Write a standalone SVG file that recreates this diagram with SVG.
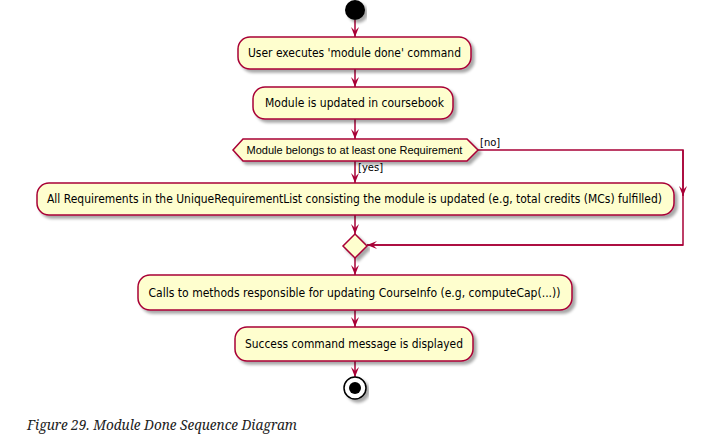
<svg xmlns="http://www.w3.org/2000/svg" width="720" height="447" viewBox="0 0 720 447">
<style>
.box{fill:#FEFECE;stroke:#A80036;stroke-width:1.5;filter:url(#sh)}
.t{font-family:"DejaVu Sans",Verdana,sans-serif;font-size:11.5px;fill:#000;text-anchor:middle}
.h{font-family:"Liberation Sans",Arial,sans-serif;font-size:11px;fill:#000;text-anchor:middle}
.g{font-family:"DejaVu Sans",Verdana,sans-serif;font-size:10px;fill:#000}
.ln{fill:none;stroke:#A80036;stroke-width:1.5}
</style>
<defs>
<filter id="sh" x="-10%" y="-30%" width="120%" height="170%">
<feGaussianBlur in="SourceAlpha" stdDeviation="1.5"/>
<feOffset dx="3" dy="3" result="b"/>
<feComponentTransfer><feFuncA type="linear" slope="0.35"/></feComponentTransfer>
<feMerge><feMergeNode/><feMergeNode in="SourceGraphic"/></feMerge>
</filter>
<marker id="ah" viewBox="0 0 10 10" refX="10" refY="5" markerWidth="10" markerHeight="10" markerUnits="userSpaceOnUse" orient="auto">
<path d="M0,1 L10,5 L0,9 L4,5 Z" fill="#A80036"/>
</marker>
</defs>
<rect width="720" height="447" fill="#fff"/>
<g id="connectors">
<line class="ln" x1="355" y1="20" x2="355" y2="37" marker-end="url(#ah)"/>
<line class="ln" x1="355" y1="69" x2="355" y2="87" marker-end="url(#ah)"/>
<line class="ln" x1="355" y1="119" x2="355" y2="139" marker-end="url(#ah)"/>
<line class="ln" x1="355" y1="161" x2="355" y2="183" marker-end="url(#ah)"/>
<line class="ln" x1="355" y1="215" x2="355" y2="234" marker-end="url(#ah)"/>
<polyline class="ln" points="478,150 683,150 683,245 367,245"/>
<line class="ln" x1="683" y1="150" x2="683" y2="196" marker-end="url(#ah)"/>
<line class="ln" x1="683" y1="245" x2="367" y2="245" marker-end="url(#ah)"/>
<line class="ln" x1="355" y1="258" x2="355" y2="275" marker-end="url(#ah)"/>
<line class="ln" x1="355" y1="310" x2="355" y2="327" marker-end="url(#ah)"/>
<line class="ln" x1="355" y1="361" x2="355" y2="377" marker-end="url(#ah)"/>
<text class="g" x="480" y="146">[no]</text>
<text class="g" x="358" y="171">[yes]</text>
</g>
<g id="start"><circle cx="355" cy="10" r="10" fill="#000" filter="url(#sh)"/></g>
<g id="n1"><rect class="box" x="238" y="37" width="233" height="32" rx="12"/><text class="t" x="354.5" y="57" textLength="213" lengthAdjust="spacingAndGlyphs">User executes 'module done' command</text></g>
<g id="n2"><rect class="box" x="253" y="87" width="200" height="32" rx="12"/><text class="t" x="354.5" y="107" textLength="179" lengthAdjust="spacingAndGlyphs">Module is updated in coursebook</text></g>
<g id="d1"><polygon class="box" points="233,150 243,139 467,139 478,150 467,161 243,161"/><text class="h" x="354.5" y="154">Module belongs to at least one Requirement</text></g>
<g id="n3"><rect class="box" x="37" y="183" width="637" height="32" rx="12"/><text class="t" x="354.5" y="203" textLength="615" lengthAdjust="spacingAndGlyphs">All Requirements in the UniqueRequirementList consisting the module is updated (e.g, total credits (MCs) fulfilled)</text></g>
<g id="m1"><polygon class="box" points="355,234 367,246 355,258 343,246"/></g>
<g id="n4"><rect class="box" x="138" y="275" width="434" height="35" rx="12"/><text class="t" x="354.5" y="297" textLength="412" lengthAdjust="spacingAndGlyphs">Calls to methods responsible for updating CourseInfo (e.g, computeCap(...))</text></g>
<g id="n5"><rect class="box" x="235" y="327" width="238" height="34" rx="12"/><text class="t" x="354" y="348" textLength="218" lengthAdjust="spacingAndGlyphs">Success command message is displayed</text></g>
<g id="end"><circle cx="355" cy="388" r="11" fill="#fff" stroke="#000" stroke-width="1.5" filter="url(#sh)"/><circle cx="355" cy="388" r="6" fill="#000"/></g>
<text x="27" y="430" font-family="'Noto Serif','DejaVu Serif','Liberation Serif',serif" font-style="italic" font-size="14" fill="#222" textLength="270" lengthAdjust="spacingAndGlyphs">Figure 29. Module Done Sequence Diagram</text>
</svg>
